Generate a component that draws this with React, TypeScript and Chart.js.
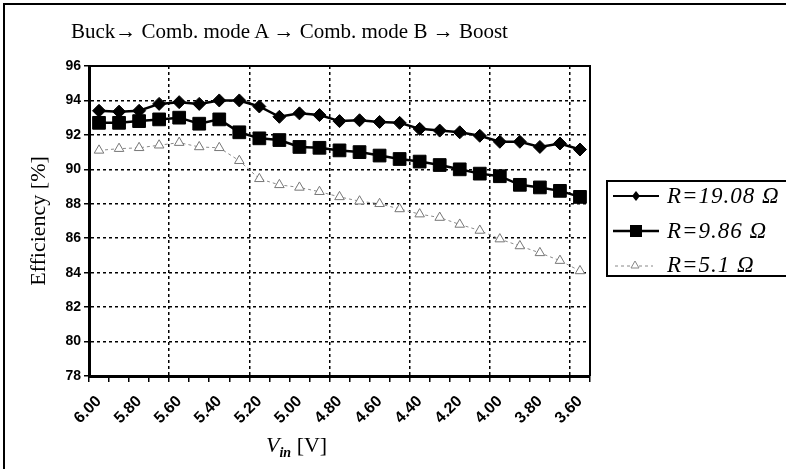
import React, { useEffect, useRef } from 'react';
import { Chart, registerables } from 'chart.js';

Chart.register(...registerables);

// ---- Data ----
const voltages = [6.0, 5.9, 5.8, 5.7, 5.6, 5.5, 5.4, 5.3, 5.2, 5.1, 5.0, 4.9, 4.8, 4.7, 4.6, 4.5, 4.4, 4.3, 4.2, 4.1, 4.0, 3.9, 3.8, 3.7, 3.6];
const effR1908 = [93.4, 93.35, 93.4, 93.8, 93.9, 93.8, 94.0, 94.0, 93.65, 93.05, 93.25, 93.15, 92.8, 92.85, 92.75, 92.7, 92.35, 92.25, 92.15, 91.95, 91.6, 91.6, 91.3, 91.5, 91.15];
const effR986 = [92.7, 92.7, 92.8, 92.9, 93.0, 92.65, 92.9, 92.15, 91.8, 91.7, 91.3, 91.25, 91.1, 91.0, 90.8, 90.6, 90.45, 90.25, 90.0, 89.75, 89.6, 89.1, 88.95, 88.75, 88.4];
const effR51 = [91.1, 91.2, 91.25, 91.4, 91.55, 91.3, 91.25, 90.5, 89.45, 89.1, 88.95, 88.7, 88.4, 88.15, 88.0, 87.7, 87.4, 87.2, 86.8, 86.45, 85.95, 85.55, 85.15, 84.7, 84.1];
const seriesLabels = ['R=19.08 Ω', 'R=9.86 Ω', 'R=5.1 Ω'];
const xLabelValues = [6.0, 5.8, 5.6, 5.4, 5.2, 5.0, 4.8, 4.6, 4.4, 4.2, 4.0, 3.8, 3.6];
const yMin = 78;
const yMax = 96;
const yStep = 2;
const titleText = 'Buck→ Comb. mode A → Comb. mode B → Boost';
const yTitle = 'Efficiency [%]';

const SERIF = "'Liberation Serif', 'Times New Roman', serif";
const SANS = "'Liberation Sans', Arial, sans-serif";

const half = 0.05; // half category width in volts
const xMaxEdge = Math.max(...voltages) + half;
const xMinEdge = Math.min(...voltages) - half;

// boundary index j: 0 at left edge (6.05), increasing to the right
const boundaryIndex = (v: number) => {
  const j = (xMaxEdge - v) / (2 * half);
  return Math.abs(j - Math.round(j)) < 1e-6 ? Math.round(j) : -1;
};

const framePlugin = {
  id: 'frameTopRight',
  afterDatasetsDraw(chart: any) {
    const { ctx, chartArea } = chart;
    ctx.save();
    ctx.strokeStyle = '#000';
    ctx.lineWidth = 2;
    ctx.beginPath();
    ctx.moveTo(chartArea.left, chartArea.top);
    ctx.lineTo(chartArea.right, chartArea.top);
    ctx.lineTo(chartArea.right, chartArea.bottom);
    ctx.stroke();
    ctx.restore();
  },
};

function LegendSample({ kind }: { kind: number }) {
  if (kind === 0) {
    return (
      <svg width="46" height="16">
        <line x1="0" y1="8" x2="46" y2="8" stroke="#000" strokeWidth="2" />
        <polygon points="23,3 27,8 23,13 19,8" fill="#000" />
      </svg>
    );
  }
  if (kind === 1) {
    return (
      <svg width="46" height="16">
        <line x1="0" y1="8" x2="46" y2="8" stroke="#000" strokeWidth="2.5" />
        <rect x="17" y="2" width="12" height="12" fill="#000" />
      </svg>
    );
  }
  return (
    <svg width="46" height="16">
      <line x1="2" y1="9" x2="40" y2="9" stroke="#888" strokeWidth="1" strokeDasharray="3,3" />
      <polygon points="22,4 26,11 18,11" fill="#fff" stroke="#888" strokeWidth="1" />
    </svg>
  );
}

export default function App() {
  const canvasRef = useRef<HTMLCanvasElement | null>(null);

  useEffect(() => {
    const canvas = canvasRef.current;
    if (!canvas) return;

    const xTicks: number[] = [];
    voltages.forEach((v) => {
      xTicks.push(+(v + half).toFixed(2));
      xTicks.push(+v.toFixed(2));
    });
    xTicks.push(+xMinEdge.toFixed(2));

    const mk = (arr: number[]) => voltages.map((v, i) => ({ x: v, y: arr[i] }));

    const chart = new Chart(canvas, {
      type: 'line',
      data: {
        datasets: [
          {
            label: seriesLabels[0],
            data: mk(effR1908),
            borderColor: '#000',
            backgroundColor: '#000',
            borderWidth: 2.5,
            pointStyle: 'rectRot',
            pointRadius: 6.5,
            pointBackgroundColor: '#000',
            pointBorderColor: '#000',
            pointBorderWidth: 1,
            tension: 0,
          },
          {
            label: seriesLabels[1],
            data: mk(effR986),
            borderColor: '#000',
            backgroundColor: '#000',
            borderWidth: 2.5,
            pointStyle: 'rect',
            pointRadius: 9,
            pointBackgroundColor: '#000',
            pointBorderColor: '#000',
            pointBorderWidth: 1,
            tension: 0,
          },
          {
            label: seriesLabels[2],
            data: mk(effR51),
            borderColor: '#8a8a8a',
            backgroundColor: '#fff',
            borderWidth: 1,
            borderDash: [3, 3],
            pointStyle: 'triangle',
            pointRadius: 5.5,
            pointBackgroundColor: '#fff',
            pointBorderColor: '#777',
            pointBorderWidth: 1,
            tension: 0,
          },
        ],
      },
      options: {
        responsive: false,
        animation: false,
        events: [],
        layout: { padding: { left: 0, top: 66, right: 196, bottom: 0 } },
        plugins: {
          legend: { display: false },
          tooltip: { enabled: false },
          title: { display: false },
        },
        scales: {
          x: {
            type: 'linear',
            reverse: true,
            min: xMinEdge,
            max: xMaxEdge,
            afterBuildTicks: (s: any) => {
              s.ticks = xTicks.map((v) => ({ value: v }));
            },
            afterFit: (s: any) => {
              s.height = 93;
            },
            ticks: {
              autoSkip: false,
              minRotation: 45,
              maxRotation: 45,
              color: '#000',
              padding: 10,
              font: { family: SANS, size: 16, weight: 'bold' },
              callback: (val: any) => {
                const v = Number(val);
                return xLabelValues.some((l) => Math.abs(l - v) < 1e-6) ? v.toFixed(2) : '';
              },
            },
            grid: {
              lineWidth: 1.5,
              color: (c: any) => {
                const j = c.tick ? boundaryIndex(c.tick.value) : -1;
                return j > 0 && j < voltages.length && j % 4 === 0 ? '#000' : 'rgba(0,0,0,0)';
              },
              tickColor: (c: any) => {
                const j = c.tick ? boundaryIndex(c.tick.value) : -1;
                return j >= 0 ? '#000' : 'rgba(0,0,0,0)';
              },
              tickLength: 6,
              tickWidth: 1.5,
            },
            border: { display: true, color: '#000', width: 3, dash: [3, 3] },
          },
          y: {
            min: yMin,
            max: yMax,
            afterFit: (s: any) => {
              s.width = 89;
            },
            ticks: {
              stepSize: yStep,
              color: '#000',
              padding: 3,
              font: { family: SANS, size: 14, weight: 'bold' },
            },
            title: {
              display: true,
              text: yTitle,
              color: '#000',
              font: { family: SERIF, size: 22 },
              padding: { top: 26, bottom: 0 },
            },
            grid: {
              lineWidth: 1.5,
              color: (c: any) =>
                c.tick && (c.tick.value === yMin || c.tick.value === yMax) ? 'rgba(0,0,0,0)' : '#000',
              tickColor: '#000',
              tickLength: 5,
              tickWidth: 1.5,
            },
            border: { display: true, color: '#000', width: 3, dash: [3, 3] },
          },
        },
      },
      plugins: [framePlugin],
    } as any);

    return () => {
      chart.destroy();
    };
  }, []);

  return (
    <div
      style={{
        position: 'fixed',
        left: 0,
        top: 0,
        width: 786,
        height: 469,
        background: '#fff',
        overflow: 'hidden',
      }}
    >
      <canvas ref={canvasRef} width={786} height={469} style={{ position: 'absolute', left: 0, top: 0 }} />
      {/* outer frame */}
      <div
        style={{
          position: 'absolute',
          left: 3,
          top: 3,
          width: 800,
          height: 480,
          borderTop: '2px solid #000',
          borderLeft: '2px solid #000',
          boxSizing: 'border-box',
          pointerEvents: 'none',
        }}
      />
      <div
        style={{
          position: 'absolute',
          left: 71,
          top: 19,
          fontFamily: SERIF,
          fontSize: 21,
          color: '#000',
          whiteSpace: 'nowrap',
        }}
      >
        {titleText}
      </div>
      <div
        style={{
          position: 'absolute',
          left: 606,
          top: 180,
          width: 200,
          height: 97,
          border: '2px solid #000',
          boxSizing: 'border-box',
          background: '#fff',
        }}
      >
        {seriesLabels.map((lab, i) => (
          <div
            key={lab}
            style={{
              position: 'absolute',
              left: 5,
              top: 0 + i * 34.5,
              height: 28,
              display: 'flex',
              alignItems: 'center',
              whiteSpace: 'nowrap',
            }}
          >
            <LegendSample kind={i} />
            <span
              style={{
                marginLeft: 8,
                fontFamily: SERIF,
                fontStyle: 'italic',
                fontSize: 23,
                letterSpacing: 1,
                color: '#000',
              }}
            >
              {lab}
            </span>
          </div>
        ))}
      </div>
      <div
        style={{
          position: 'absolute',
          left: 266,
          top: 432,
          fontFamily: SERIF,
          fontSize: 22,
          color: '#000',
          whiteSpace: 'nowrap',
        }}
      >
        <i>V</i>
        <sub style={{ fontSize: 14, fontStyle: 'italic', fontWeight: 'bold', verticalAlign: 'sub' }}>in</sub> [V]
      </div>
    </div>
  );
}
